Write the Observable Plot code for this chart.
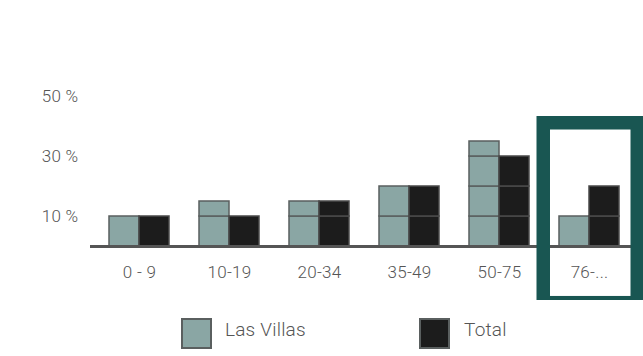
<!DOCTYPE html>
<html>
<head>
<meta charset="utf-8">
<script src="https://cdn.jsdelivr.net/npm/d3@7"></script>
<script src="https://cdn.jsdelivr.net/npm/@observablehq/plot@0.6"></script>
<style>
  html, body { margin: 0; padding: 0; background: #fff; }
  #wrap { width: 643px; height: 356px; position: relative; overflow: hidden; font-family: Roboto, "DejaVu Sans", sans-serif; font-weight: 300; color: #555; }
  #wrap svg { overflow: hidden; display: block; }
  .leg { position: absolute; top: 318px; width: 27px; height: 27px; border: 2px solid #5a5f5f; }
  .legt { position: absolute; top: 315px; font-size: 19px; line-height: 30px; letter-spacing: 0.2px; color: #555; }
</style>
</head>
<body>
<div id="wrap"></div>
<script>
const categories = ["0 - 9", "10-19", "20-34", "35-49", "50-75", "76-..."];
const seriesNames = ["Las Villas", "Total"];
const lasVillas = [10, 15, 15, 20, 35, 10];
const total = [10, 10, 15, 20, 30, 20];
const yTicks = [10, 30, 50];
const highlighted = ["76-..."];
const colors = {"Las Villas": "#8aa6a4", "Total": "#1c1c1c"};

// split each value into 10 % blocks (as drawn in the reference)
function blocks(values, series) {
  const out = [];
  values.forEach((v, i) => {
    let rest = v;
    while (rest > 0) { const s = Math.min(10, rest); out.push({cat: categories[i], series, size: s}); rest -= s; }
  });
  return out;
}
const lvBlocks = blocks(lasVillas, seriesNames[0]);
const totBlocks = blocks(total, seriesNames[1]);

const chart = Plot.plot({
  width: 643,
  height: 300,
  marginLeft: 90,
  marginRight: 11,
  marginTop: 96,
  marginBottom: 54,
  style: {fontFamily: "Roboto, 'DejaVu Sans', sans-serif", fontSize: "17px", fontWeight: 300, color: "#555", background: "transparent", letterSpacing: "0.3px", overflow: "hidden"},
  x: {domain: categories, range: [92.75, 635.75], paddingInner: 0.337, paddingOuter: 0.1685, tickSize: 0, tickPadding: 19, label: null},
  y: {domain: [0, 50], ticks: yTicks, tickFormat: d => d + " %", tickSize: 0, tickPadding: 12, label: null},
  marks: [
    Plot.barY(lvBlocks, {x: "cat", y: "size", fill: colors["Las Villas"], stroke: "#5a5f5f", strokeWidth: 1.5, insetRight: 30}),
    Plot.barY(totBlocks, {x: "cat", y: "size", fill: colors["Total"], stroke: "#4a4a4a", strokeWidth: 1.5, insetLeft: 30}),
    Plot.ruleY([0], {stroke: "#555", strokeWidth: 3}),
    Plot.barY(highlighted, {x: d => d, y1: () => -18.9, y2: () => 41.08, fill: "none", stroke: "#195652", strokeWidth: 13.5, insetLeft: -15.75, insetRight: -18.25})
  ]
});
const wrap = document.getElementById("wrap");
wrap.appendChild(chart);

const legend = [
  {name: seriesNames[0], sx: 181, tx: 225},
  {name: seriesNames[1], sx: 419, tx: 464}
];
legend.forEach(l => {
  const sw = document.createElement("div");
  sw.className = "leg";
  sw.style.left = l.sx + "px";
  sw.style.background = colors[l.name];
  wrap.appendChild(sw);
  const t = document.createElement("div");
  t.className = "legt";
  t.style.left = l.tx + "px";
  t.textContent = l.name;
  wrap.appendChild(t);
});
</script>
</body>
</html>
